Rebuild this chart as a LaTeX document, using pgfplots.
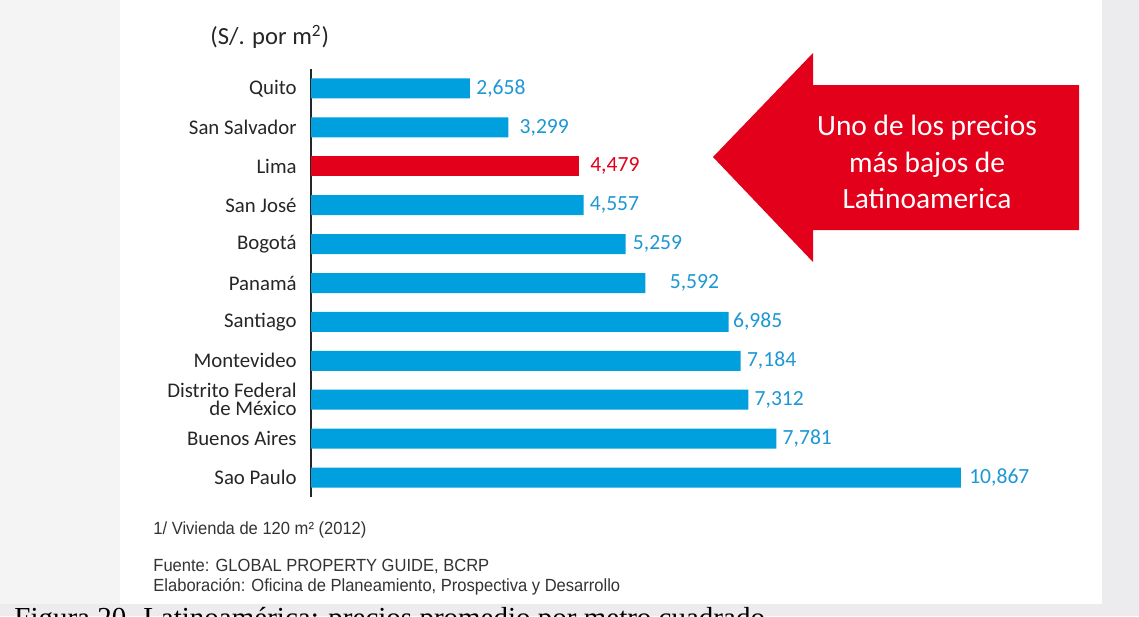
\documentclass[border=0pt]{standalone}
\usepackage{pgfplots}
\pgfplotsset{compat=1.18}
\usepackage{pgfplotstable}
\usepackage{fontspec}
\setmainfont{Carlito}
\newfontfamily\notefont[FakeStretch=0.94]{Liberation Sans}
\newfontfamily\capfont{Liberation Serif}

\definecolor{barblue}{RGB}{0,160,222}
\definecolor{labblue}{RGB}{30,152,212}
\definecolor{limared}{RGB}{226,0,26}
\definecolor{pagebg}{RGB}{236,236,238}
\definecolor{leftbg}{RGB}{244,244,245}

% y = position from top, x = price, dx = gap before the label (pt)
\pgfplotstableread{
y x dx lab
0 2658 3 2,658
1 3299 5.5 3,299
3 4557 3 4,557
4 5259 3.5 5,259
5 5592 12 5,592
6 6985 2 6,985
7 7184 3 7,184
8 7312 3 7,312
9 7781 3 7,781
10 10867 4 10,867
}\bluedata
\pgfplotstableread{
y x dx lab
2 4479 5.5 4,479
}\limadata

\begin{document}
\begin{tikzpicture}[x=0.5pt,y=-0.5pt]
\useasboundingbox (0,0) rectangle (1139,616);
\clip (0,0) rectangle (1139,616);
\fill[pagebg] (0,0) rectangle (1139,616);
\fill[leftbg] (0,0) rectangle (120,604);
\fill[white] (120,0) rectangle (1102,604);

% red arrow
\fill[limared] (713,157) -- (813,53) -- (813,85) -- (1079,85) -- (1079,230)
  -- (813,230) -- (813,262) -- cycle;
\node[text=white, align=center, font=\fontsize{14.7}{18.3}\selectfont]
  at (927,162) {Uno de los precios\\más bajos de\\Latinoamerica};

\node[anchor=west, font=\fontsize{12.3}{14}\selectfont, text=black!85, inner sep=0pt]
  at (210,37) {(S/. por m\textsuperscript{2})};

\begin{axis}[
    at={(155.5pt,-34.5pt)}, anchor=north west,
    scale only axis, width=342pt, height=214pt,
    xmin=0, xmax=11438, ymin=-0.5, ymax=10.5,
    y dir=reverse,
    xbar, bar width=10pt, bar shift=0pt,
    axis x line=none, axis y line*=left,
    y axis line style={black!85, line width=0.8pt},
    ytick={0,...,10},
    yticklabels={Quito, San Salvador, Lima, San José, Bogotá, Panamá, Santiago,
      Montevideo, {Distrito Federal\\de México}, Buenos Aires, Sao Paulo},
    yticklabel style={font=\fontsize{10.4}{9}\selectfont, align=right,
      text=black!85, inner sep=0pt, xshift=-7pt},
    major tick length=0pt, ytick style={draw=none},
    point meta=explicit symbolic,
    visualization depends on={\thisrow{dx} \as \gap},
    nodes near coords,
    nodes near coords style={anchor=west, inner sep=0pt, xshift=\gap pt,
      font=\fontsize{10.8}{12}\selectfont},
    clip=false,
]
\addplot[draw=none, fill=barblue, nodes near coords style={text=labblue}]
  table[x=x, y=y, meta=lab] {\bluedata};
\addplot[draw=none, fill=limared, nodes near coords style={text=limared}]
  table[x=x, y=y, meta=lab] {\limadata};
\end{axis}

\node[anchor=west, inner sep=0pt, font=\notefont\fontsize{8.8}{10}\selectfont, text=black!80]
  at (153,530) {1/ Vivienda de 120 m² (2012)};
\node[anchor=west, inner sep=0pt, align=left, font=\notefont\fontsize{8.8}{10}\selectfont, text=black!80]
  at (153,577) {Fuente: GLOBAL PROPERTY GUIDE, BCRP\\Elaboración: Oficina de Planeamiento, Prospectiva y Desarrollo};
\node[anchor=north west, inner sep=0pt, font=\capfont\fontsize{14.5}{16}\selectfont]
  at (14,607) {Figura 20. Latinoamérica: precios promedio por metro cuadrado};
\end{tikzpicture}
\end{document}
